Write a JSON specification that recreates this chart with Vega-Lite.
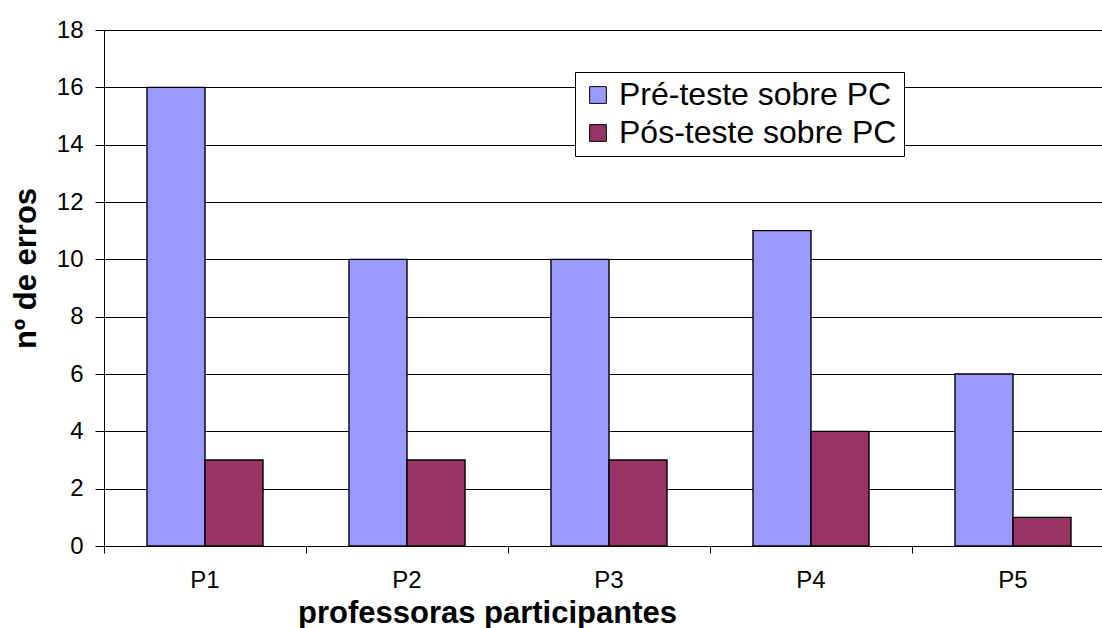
{
  "$schema": "https://vega.github.io/schema/vega-lite/v6.json",
  "autosize": "none",
  "width": 998,
  "height": 516,
  "padding": {"left": 104, "top": 30, "right": 0, "bottom": 82},
  "background": "white",
  "data": {"values": [
    {"prof": "P1", "serie": "Pré-teste sobre PC", "erros": 16},
    {"prof": "P1", "serie": "Pós-teste sobre PC", "erros": 3},
    {"prof": "P2", "serie": "Pré-teste sobre PC", "erros": 10},
    {"prof": "P2", "serie": "Pós-teste sobre PC", "erros": 3},
    {"prof": "P3", "serie": "Pré-teste sobre PC", "erros": 10},
    {"prof": "P3", "serie": "Pós-teste sobre PC", "erros": 3},
    {"prof": "P4", "serie": "Pré-teste sobre PC", "erros": 11},
    {"prof": "P4", "serie": "Pós-teste sobre PC", "erros": 4},
    {"prof": "P5", "serie": "Pré-teste sobre PC", "erros": 6},
    {"prof": "P5", "serie": "Pós-teste sobre PC", "erros": 1}
  ]},
  "mark": {"type": "bar", "stroke": "black", "strokeWidth": 1.4},
  "encoding": {
    "x": {
      "field": "prof", "type": "nominal",
      "scale": {"paddingInner": 0, "paddingOuter": 0, "range": [0, 1010]},
      "axis": {
        "title": "professoras participantes",
        "labelAngle": 0,
        "bandPosition": 0,
        "domain": true, "domainColor": "black",
        "tickColor": "black", "tickSize": 7,
        "labelFont": "Liberation Sans", "labelFontSize": 24, "labelColor": "black",
        "labelPadding": 15,
        "titleFont": "Liberation Sans", "titleFontSize": 31, "titleFontWeight": "bold", "titleColor": "black",
        "titleX": 383,
        "titleY": 76,
        "titleAlign": "center",
        "titleBaseline": "alphabetic",
        "grid": false
      }
    },
    "xOffset": {
      "field": "serie", "type": "nominal",
      "sort": ["Pré-teste sobre PC", "Pós-teste sobre PC"],
      "scale": {"paddingInner": 0, "paddingOuter": 0.741}
    },
    "y": {
      "field": "erros", "type": "quantitative",
      "scale": {"domain": [0, 18], "nice": false},
      "axis": {
        "title": "nº de erros",
        "values": [0, 2, 4, 6, 8, 10, 12, 14, 16, 18],
        "domainColor": "black",
        "tickColor": "black", "tickSize": 9,
        "labelFont": "Liberation Sans", "labelFontSize": 24, "labelColor": "black",
        "labelPadding": 12,
        "titleFont": "Liberation Sans", "titleFontSize": 31, "titleFontWeight": "bold", "titleColor": "black",
        "titleX": -69,
        "titleY": 238,
        "titleAngle": -90,
        "titleAlign": "center",
        "titleBaseline": "alphabetic",
        "grid": true, "gridColor": "black", "gridOpacity": 1, "gridWidth": 1
      }
    },
    "color": {
      "field": "serie", "type": "nominal",
      "sort": ["Pré-teste sobre PC", "Pós-teste sobre PC"],
      "scale": {"domain": ["Pré-teste sobre PC", "Pós-teste sobre PC"], "range": ["#9999FF", "#993366"]},
      "legend": {
        "title": null,
        "orient": "none",
        "legendX": 471,
        "legendY": 42,
        "fillColor": "white",
        "strokeColor": "black",
        "padding": 7,
        "symbolType": "square",
        "symbolSize": 280,
        "symbolStrokeColor": "black",
        "symbolStrokeWidth": 1,
        "symbolOpacity": 1,
        "labelFont": "Liberation Sans",
        "labelFontSize": 32,
        "labelColor": "black",
        "labelOffset": 5,
        "rowPadding": 6,
        "labelLimit": 400
      }
    }
  },
  "config": {
    "view": {"stroke": null},
    "axis": {"domainWidth": 1, "tickWidth": 1}
  }
}
